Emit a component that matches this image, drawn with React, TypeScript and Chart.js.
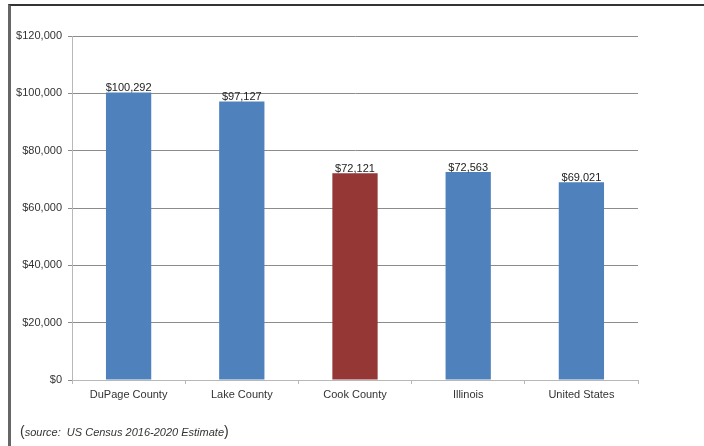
import React, { useEffect, useRef } from "react";
import { Chart, registerables } from "chart.js";

Chart.register(...registerables);

const categories = ["DuPage County", "Lake County", "Cook County", "Illinois", "United States"];
const values = [100292, 97127, 72121, 72563, 69021];
const barColors = ["#4f81bd", "#4f81bd", "#953735", "#4f81bd", "#4f81bd"];
const yMax = 120000;
const yStep = 20000;
const sourceNote = "source:  US Census 2016-2020 Estimate";

const FONT = "'Liberation Sans', Arial, sans-serif";

const fmt = (v: number) => "$" + v.toLocaleString("en-US");

const labelPlugin = {
  id: "barLabels",
  afterDatasetsDraw(chart: any) {
    const ctx = chart.ctx;
    const meta = chart.getDatasetMeta(0);
    ctx.save();
    ctx.font = `11px ${FONT}`;
    ctx.fillStyle = "#222";
    ctx.textAlign = "center";
    ctx.textBaseline = "bottom";
    meta.data.forEach((bar: any, i: number) => {
      ctx.fillText(fmt(values[i]), bar.x, bar.y + 1);
    });
    ctx.restore();
  },
};

export default function App() {
  const ref = useRef<HTMLCanvasElement | null>(null);
  useEffect(() => {
    if (!ref.current) return;
    const chart = new Chart(ref.current, {
      type: "bar",
      data: {
        labels: categories,
        datasets: [
          {
            data: values,
            backgroundColor: barColors,
            barPercentage: 0.4,
            categoryPercentage: 1.0,
          },
        ],
      },
      options: {
        responsive: false,
        animation: false,
        devicePixelRatio: 1,
        layout: { padding: { left: 0, top: 36, right: 66, bottom: 0 } },
        plugins: {
          legend: { display: false },
          tooltip: { enabled: false },
        },
        scales: {
          x: {
            grid: {
              offset: true,
              drawOnChartArea: false,
              drawTicks: true,
              tickLength: 4,
              color: "#b8b8b8",
            },
            border: { color: "#b8b8b8", width: 1 },
            ticks: {
              color: "#333",
              font: { family: FONT, size: 11 },
              padding: 4,
              maxRotation: 0,
            },
            afterFit(scale: any) {
              scale.height = 66;
            },
          },
          y: {
            min: 0,
            max: yMax,
            grid: {
              color: "#8c8c8c",
              tickLength: 4,
              drawTicks: true,
            },
            border: { color: "#b8b8b8", width: 1 },
            ticks: {
              stepSize: yStep,
              color: "#333",
              font: { family: FONT, size: 11 },
              padding: 6,
              callback: (v: any) => fmt(Number(v)),
            },
            afterFit(scale: any) {
              scale.width = 72;
            },
          },
        },
      },
      plugins: [labelPlugin],
    });
    return () => chart.destroy();
  }, []);

  return (
    <div style={{ position: "fixed", left: 0, top: 0, width: 704, height: 446, background: "#fff", overflow: "hidden" }}>
      <canvas ref={ref} width={704} height={446} style={{ position: "absolute", left: 0, top: 0 }} />
      <div
        style={{
          position: "absolute",
          left: 8,
          top: 4,
          width: 704,
          height: 446,
          borderTop: "2px solid #333",
          borderLeft: "3px solid #666",
          boxSizing: "border-box",
          pointerEvents: "none",
        }}
      />
      <div
        style={{
          position: "absolute",
          left: 20,
          top: 423,
          fontFamily: FONT,
          fontSize: 11,
          color: "#333",
          whiteSpace: "pre",
        }}
      >
        <span style={{ fontSize: 14 }}>(</span>
        <span style={{ fontStyle: "italic" }}>{sourceNote}</span>
        <span style={{ fontSize: 14 }}>)</span>
      </div>
    </div>
  );
}
